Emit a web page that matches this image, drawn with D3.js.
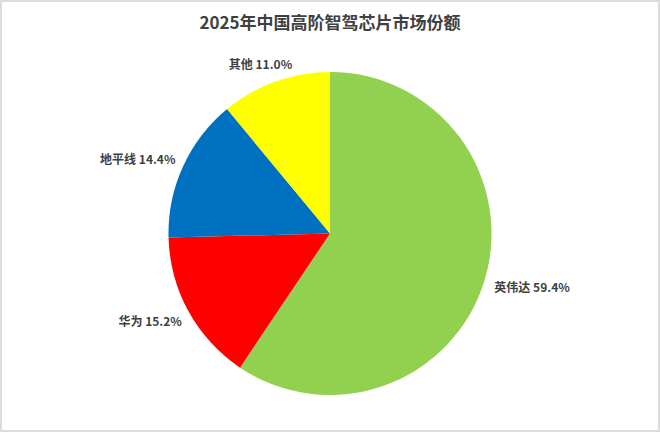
<!DOCTYPE html>
<html>
<head>
<meta charset="utf-8">
<script src="https://cdn.jsdelivr.net/npm/d3@7"></script>
<style>
  body{margin:0;background:#fff;}
  text{font-family:"Noto Sans CJK SC","Noto Sans",sans-serif;}
</style>
</head>
<body>
<div id="chart"></div>
<script>
// market share data
var names=["英伟达","华为","地平线","其他"];
var shares=[59.4,15.2,14.4,11.0];
var colors=["#92d050","#ff0000","#0070c0","#ffff00"];
var title="2025年中国高阶智驾芯片市场份额";

var width=660, height=432;
var cx=330, cy=233.5, radius=161.5;

var svg=d3.select("#chart").append("svg")
    .attr("width",width).attr("height",height);

// light grey frame round the picture
svg.append("rect")
    .attr("x",1).attr("y",1)
    .attr("width",width-2).attr("height",height-2)
    .attr("fill","white").attr("stroke","#dcdcdc").attr("stroke-width",2);

svg.append("text")
    .attr("x",cx).attr("y",21)
    .attr("text-anchor","middle")
    .attr("dominant-baseline","central")
    .attr("font-size",17).attr("font-weight","bold")
    .attr("fill","#404040")
    .text(title);

var data=names.map((n,i)=>({name:n,value:shares[i],color:colors[i]}));
var pie=d3.pie().sort(null).value(d=>d.value);
var arcs=pie(data);
var arc=d3.arc().innerRadius(0).outerRadius(radius);

var g=svg.append("g").attr("transform","translate("+cx+","+cy+")");
g.selectAll("path").data(arcs).enter().append("path")
    .attr("d",arc)
    .attr("fill",d=>d.data.color);

// labels outside the slices, pushed away from the pie by half their box
var labelGap=12;
arcs.forEach(function(a){
    var mid=(a.startAngle+a.endAngle)/2;
    var s=Math.sin(mid), c=Math.cos(mid);
    var t=g.append("text")
        .attr("text-anchor","middle")
        .attr("dominant-baseline","central")
        .attr("font-size",12).attr("font-weight","bold")
        .attr("fill","#404040")
        .text(a.data.name+" "+a.data.value.toFixed(1)+"%");
    var w=t.node().getComputedTextLength(), h=14;
    var x=s*(radius+labelGap)+s*w/2;
    var y=-c*(radius+labelGap)-c*h/2;
    t.attr("x",x).attr("y",y);
});
</script>
</body>
</html>
